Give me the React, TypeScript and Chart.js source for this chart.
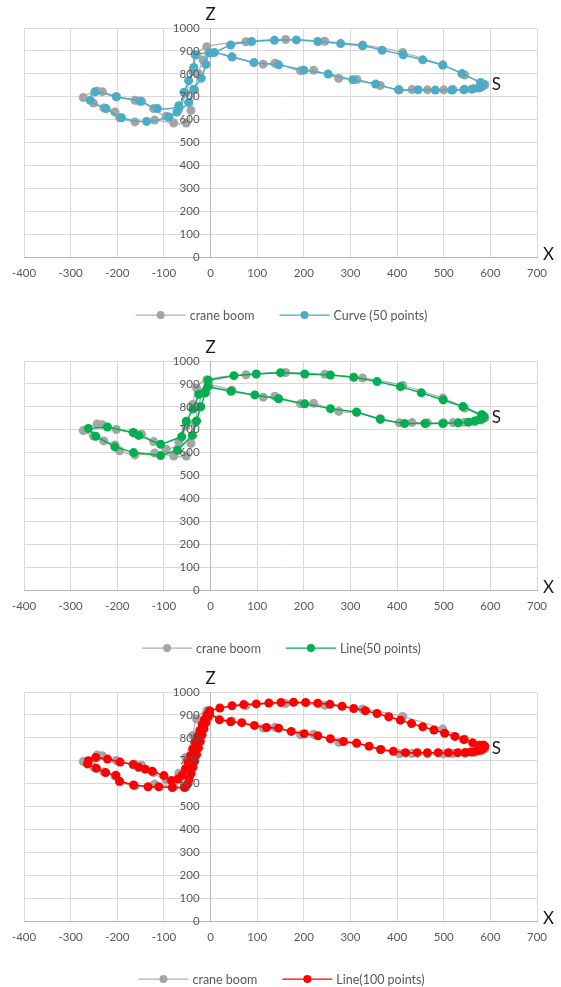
import React, { useEffect, useRef } from "react";
import { Chart, registerables } from "chart.js";

Chart.register(...registerables);

// ---- axis ranges ----
const X_MIN = -400;
const X_MAX = 700;
const X_STEP = 100;
const Z_MIN = 0;
const Z_MAX = 1000;
const Z_STEP = 100;

// ---- crane boom reference path (starts at S, upper arc, left lobe, lower arc) ----
const boomX = [588, 545, 498, 412, 326, 245, 161, 76, -8, -30, -38, -53, -68, -95, -122, -148, -162, -202, -232, -243, -273, -251, -229, -205, -195, -162, -120, -79, -52, -42, -34, -26, -16, -3, 46, 113, 138, 193, 221, 275, 314, 364, 405, 432, 465, 500, 520, 545, 565, 580, 588];
const boomZ = [752, 795, 838, 893, 926, 942, 950, 940, 918, 882, 810, 715, 645, 615, 648, 680, 684, 701, 722, 725, 696, 672, 651, 633, 608, 590, 598, 585, 585, 640, 730, 800, 860, 893, 873, 842, 846, 813, 815, 780, 775, 749, 730, 731, 730, 730, 731, 732, 736, 742, 752];

// ---- smoothed curve, 50 points ----
const curve50X = [585, 579, 539, 498, 455, 413, 368, 326, 279, 230, 184, 137, 88, 43, 8, -33, -36, -47, -57, -68, -114, -151, -202, -248, -258, -224, -191, -137, -89, -72, -47, -36, -20, -10, -2, 46, 93, 146, 200, 252, 305, 354, 403, 445, 482, 517, 543, 560, 575, 583];
const curve50Z = [754, 762, 801, 838, 861, 883, 903, 922, 932, 941, 948, 946, 941, 926, 893, 883, 828, 770, 719, 661, 648, 680, 699, 721, 684, 648, 608, 592, 611, 633, 675, 733, 781, 841, 891, 874, 849, 839, 816, 799, 774, 755, 730, 730, 729, 729, 730, 733, 738, 746];

// ---- polyline, 50 points ----
const line50X = [585, 581, 541, 499, 452, 407, 357, 307, 257, 202, 150, 98, 50, -5, -25, -38, -52, -62, -107, -154, -166, -221, -262, -246, -205, -165, -107, -71, -39, -30, -21, -11, -6, 44, 95, 146, 202, 257, 313, 364, 416, 460, 498, 531, 553, 568, 578, 584, 586, 583];
const line50Z = [757, 765, 801, 830, 861, 888, 910, 929, 939, 943, 949, 943, 936, 916, 854, 790, 737, 669, 636, 675, 688, 712, 705, 671, 625, 600, 587, 610, 675, 738, 800, 861, 888, 868, 852, 835, 813, 792, 777, 745, 727, 727, 727, 730, 733, 739, 745, 751, 758, 764];

// ---- polyline, 100 points ----
const line100X = [586, 577, 562, 543, 524, 502, 479, 455, 431, 407, 382, 357, 332, 307, 282, 256, 230, 204, 178, 151, 125, 98, 71, 46, 20,
  -2, -8, -13, -18, -23, -28, -33, -38, -43, -48, -54, -61, -70,
  -84, -100, -125, -140, -154, -166, -194, -221, -246, -262,
  -264, -245, -225, -203, -195, -165, -134, -111, -82, -56,
  -50, -46, -42, -38, -34, -30, -26, -22, -18, -14, -10, -6, -2,
  19, 43, 67, 94, 120, 146, 173, 201, 230, 257, 285, 313, 340, 365, 392, 418, 443, 465, 488, 510, 530, 546, 558, 568, 576, 582, 586, 588, 585];
const line100Z = [758, 768, 778, 792, 806, 820, 834, 848, 862, 877, 892, 906, 918, 928, 938, 946, 951, 954, 955, 954, 952, 948, 945, 940, 930,
  918, 900, 880, 857, 832, 806, 779, 751, 722, 693, 664, 637, 620,
  613, 635, 654, 663, 671, 683, 694, 707, 714, 700,
  686, 667, 648, 636, 610, 594, 586, 586, 583, 583,
  597, 620, 645, 671, 698, 727, 756, 785, 813, 840, 866, 889, 908,
  879, 870, 866, 854, 845, 842, 828, 818, 809, 796, 784, 777, 763, 749, 741, 735, 735, 735, 735, 735, 735, 736, 738, 741, 745, 750, 756, 763, 769];

// ---- styling ----
const FONT = "Lato, 'Open Sans', sans-serif";
const GRID = "#d9d9d9";
const AXIS = "#b8b8b8";
const TEXT = "#595959";
const BOOM_COLOR = "#a5a5a5";

const PLOT_TOP = 28;
const PLOT_H = 229;
const PAD_X = 24;
const LEGEND_Y = 315;
const MARK_R = 4.5;

const toPoints = (xs: number[], zs: number[]) => xs.map((x, i) => ({ x, y: zs[i] }));

// Draws the y tick labels beside the vertical axis, axis titles, the S marker label and the legend.
const annotate = {
  id: "annotate",
  afterDraw(chart: any) {
    const { ctx, chartArea, scales } = chart;
    const xs = scales.x;
    const ys = scales.y;
    const x0 = xs.getPixelForValue(0);
    ctx.save();

    ctx.font = `11.5px ${FONT}`;
    ctx.fillStyle = TEXT;
    ctx.textAlign = "right";
    ctx.textBaseline = "middle";
    ys.ticks.forEach((t: any) => {
      ctx.fillText(String(t.value), x0 - 11, ys.getPixelForValue(t.value));
    });

    ctx.font = `17px ${FONT}`;
    ctx.fillStyle = "#1a1a1a";
    ctx.textAlign = "center";
    ctx.fillText("Z", x0, chartArea.top - 13);
    ctx.textAlign = "left";
    ctx.fillText("X", chartArea.right + 6, chartArea.bottom - 2);
    ctx.fillText("S", xs.getPixelForValue(boomX[0]) + 7, ys.getPixelForValue(boomZ[0]));

    // legend: line + marker swatch followed by the series name
    ctx.font = `12.5px ${FONT}`;
    const LINE = 50;
    const GAP_T = 4;
    const GAP_I = 25;
    const items = chart.data.datasets.map((d: any) => ({
      label: d.label,
      line: d.borderColor,
      dot: d.pointBackgroundColor,
      w: ctx.measureText(d.label).width,
    }));
    const total =
      items.reduce((s: number, it: any) => s + LINE + GAP_T + it.w, 0) + GAP_I * (items.length - 1);
    let x = (chart.width - total) / 2 + 1;
    const y = LEGEND_Y;
    items.forEach((it: any) => {
      ctx.strokeStyle = it.line;
      ctx.lineWidth = 1.25;
      ctx.beginPath();
      ctx.moveTo(x, y);
      ctx.lineTo(x + LINE, y);
      ctx.stroke();
      ctx.fillStyle = it.dot;
      ctx.beginPath();
      ctx.arc(x + LINE / 2, y, 4, 0, Math.PI * 2);
      ctx.fill();
      ctx.fillStyle = TEXT;
      ctx.textAlign = "left";
      ctx.textBaseline = "middle";
      ctx.fillText(it.label, x + LINE + GAP_T, y + 0.5);
      x += LINE + GAP_T + it.w + GAP_I;
    });

    ctx.restore();
  },
};

type PanelProps = {
  height: number;
  label: string;
  color: string;
  xs: number[];
  zs: number[];
  smooth: boolean;
};

function Panel({ height, label, color, xs, zs, smooth }: PanelProps) {
  const ref = useRef<HTMLCanvasElement>(null);

  useEffect(() => {
    const canvas = ref.current;
    if (!canvas) return;
    const chart = new Chart(canvas, {
      type: "scatter",
      data: {
        datasets: [
          {
            label: "crane boom",
            data: toPoints(boomX, boomZ),
            showLine: true,
            tension: 0.35,
            borderColor: "#b0b0b0",
            borderWidth: 1.25,
            pointBackgroundColor: BOOM_COLOR,
            pointBorderColor: BOOM_COLOR,
            pointRadius: MARK_R,
            pointBorderWidth: 0,
            order: 2,
          },
          {
            label,
            data: toPoints(xs, zs),
            showLine: true,
            tension: smooth ? 0.35 : 0,
            borderColor: color,
            borderWidth: 1.5,
            pointBackgroundColor: color,
            pointBorderColor: color,
            pointRadius: MARK_R,
            pointBorderWidth: 0,
            order: 1,
          },
        ],
      },
      options: {
        responsive: false,
        maintainAspectRatio: false,
        animation: false,
        events: [],
        layout: { padding: { top: PLOT_TOP, left: PAD_X, right: PAD_X, bottom: 0 } },
        plugins: {
          legend: { display: false },
          tooltip: { enabled: false },
        },
        scales: {
          x: {
            type: "linear",
            position: "bottom",
            min: X_MIN,
            max: X_MAX,
            ticks: {
              stepSize: X_STEP,
              color: TEXT,
              font: { family: FONT, size: 11.5 },
              padding: 9,
              maxRotation: 0,
              autoSkip: false,
            },
            grid: { color: GRID, lineWidth: 1, drawTicks: false },
            border: { color: AXIS, width: 1 },
            afterFit: (s: any) => {
              s.height = height - PLOT_TOP - PLOT_H;
            },
          },
          y: {
            type: "linear",
            position: { x: 0 },
            min: Z_MIN,
            max: Z_MAX,
            ticks: { stepSize: Z_STEP, display: false },
            grid: { color: GRID, lineWidth: 1, drawTicks: false },
            border: { color: AXIS, width: 1 },
          },
        },
      } as any,
      plugins: [annotate],
    });
    return () => chart.destroy();
  }, [height, label, color, xs, zs, smooth]);

  return (
    <canvas
      ref={ref}
      width={561}
      height={height}
      style={{ display: "block", width: 561, height }}
    />
  );
}

export default function App() {
  useEffect(() => {
    document.body.style.margin = "0";
  }, []);

  return (
    <div style={{ width: 561, height: 987, background: "#ffffff" }}>
      <Panel height={333} label="Curve (50 points)" color="#4bacc6" xs={curve50X} zs={curve50Z} smooth />
      <Panel height={331} label="Line(50 points)" color="#00b050" xs={line50X} zs={line50Z} smooth={false} />
      <Panel height={323} label="Line(100 points)" color="#ff0000" xs={line100X} zs={line100Z} smooth={false} />
    </div>
  );
}
